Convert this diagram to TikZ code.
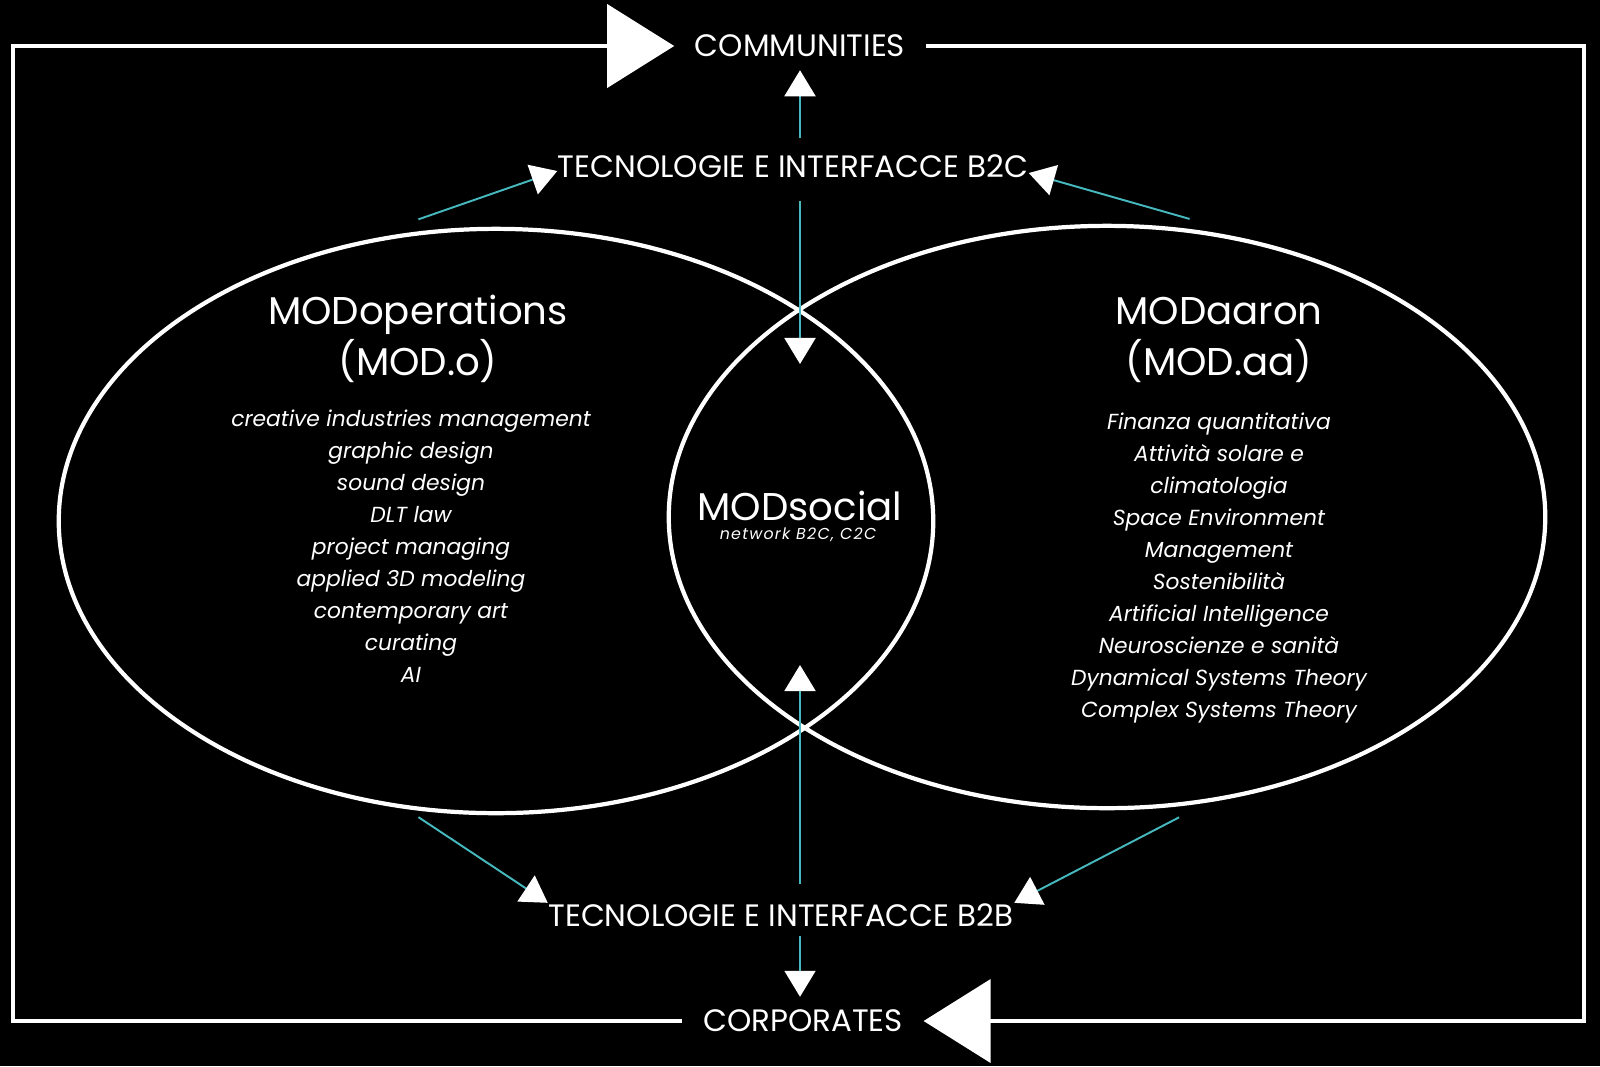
\documentclass[tikz,border=0pt]{standalone}
\usepackage{fontspec}
\setmainfont{Poppins}
\usetikzlibrary{positioning,shapes.geometric,arrows.meta}
\definecolor{modteal}{RGB}{70,185,190}

\begin{document}
\begin{tikzpicture}[x=0.01cm, y=-0.01cm,
    every node/.append style={text=white},
    frame/.style={draw=white, line width=0.04cm, -{Triangle[width=0.83cm,length=0.67cm]}},
    link/.style={draw=modteal, line width=0.55pt, -{Triangle[width=0.31cm,length=0.26cm,color=white]}},
    circlebox/.style={ellipse, draw=white, line width=1.2pt},
    tiertext/.style={font=\fontsize{8.8}{10}\selectfont, inner xsep=0.2cm, inner ysep=0pt},
    titletext/.style={font=\fontsize{11}{13}\selectfont, inner sep=0pt, anchor=base},
    itemtext/.style={font=\fontsize{6.2}{8}\selectfont\itshape, inner sep=0pt, anchor=base},
    socialtext/.style={font=\fontsize{11}{12}\selectfont, inner sep=0pt},
    subtext/.style={font=\fontsize{4.5}{5}\selectfont\itshape\addfontfeature{LetterSpace=8}, inner sep=0pt}]

\fill[black] (0,0) rectangle (1600,1066);
\useasboundingbox (0,0) rectangle (1600,1066);

\node[circlebox, minimum width=8.74cm, minimum height=5.84cm] (opsEll) at (496,521) {};
\node[circlebox, minimum width=8.76cm, minimum height=5.82cm] (aaronEll) at (1107,517) {};

\node[tiertext] (comm) at (800,46) {COMMUNITIES};
\node[tiertext] (corp) at (803,1021) {CORPORATES};
\node[tiertext, inner xsep=0pt] (b2c) at (793,166) {TECNOLOGIE E INTERFACCE B2C};
\node[tiertext, inner xsep=0pt] (b2b) at (781,915) {TECNOLOGIE E INTERFACCE B2B};
\coordinate (frameNW) at (13,46);
\coordinate (frameSE) at (1584,1021);
\coordinate (lensN) at (800,364);
\coordinate (lensS) at (800,665);

\draw[frame] (corp.west) -| (frameNW) -- (comm.west);
\draw[frame] (comm.east) -| (frameSE) -- (corp.east);

\node[titletext] (opsTitle) at (418,324) {MODoperations};
\node[titletext] (opsAbbr) at (418,375) {(MOD.o)};
\node[titletext] (aaronTitle) at (1219,324) {MODaaron};
\node[titletext] (aaronAbbr) at (1219,375) {(MOD.aa)};
\node[socialtext] (social) at (800,506) {MODsocial};
\node[subtext] (socialNet) at (798,535) {network B2C, C2C};

\foreach \txt [count=\i from 0] in {creative industries management, graphic design, sound design, DLT law, project managing, applied 3D modeling, contemporary art, curating, AI} {
    \node[itemtext] (ops\i) at (411,{426+32*\i}) {\txt};
}
\foreach \txt [count=\i from 0] in {Finanza quantitativa, Attività solare e, climatologia, Space Environment, Management, Sostenibilità, Artificial Intelligence, Neuroscienze e sanità, Dynamical Systems Theory, Complex Systems Theory} {
    \node[itemtext] (aaron\i) at (1219,{429+32*\i}) {\txt};
}

\draw[link, shorten <=0.155cm, shorten >=0.125cm] (b2c.north -| social) -- (comm.south -| social);
\draw[link, shorten <=0.225cm] (b2c.south -| social) -- (lensN);
\draw[link, shorten <=0.185cm] (b2b.north -| social) -- (lensS);
\draw[link, shorten <=0.085cm, shorten >=0.125cm] (b2b.south -| social) -- (corp.north -| social);

\draw[link] ([yshift=0.12cm]opsEll.105) -- ([yshift=-0.05cm]b2c.west);
\draw[link] ([yshift=0.1cm]aaronEll.74) -- ([yshift=-0.07cm]b2c.east);
\draw[link] ([yshift=-0.065cm]opsEll.255) -- (b2b.north west);
\draw[link] ([yshift=-0.11cm]aaronEll.284) -- (b2b.north east);
\end{tikzpicture}
\end{document}
